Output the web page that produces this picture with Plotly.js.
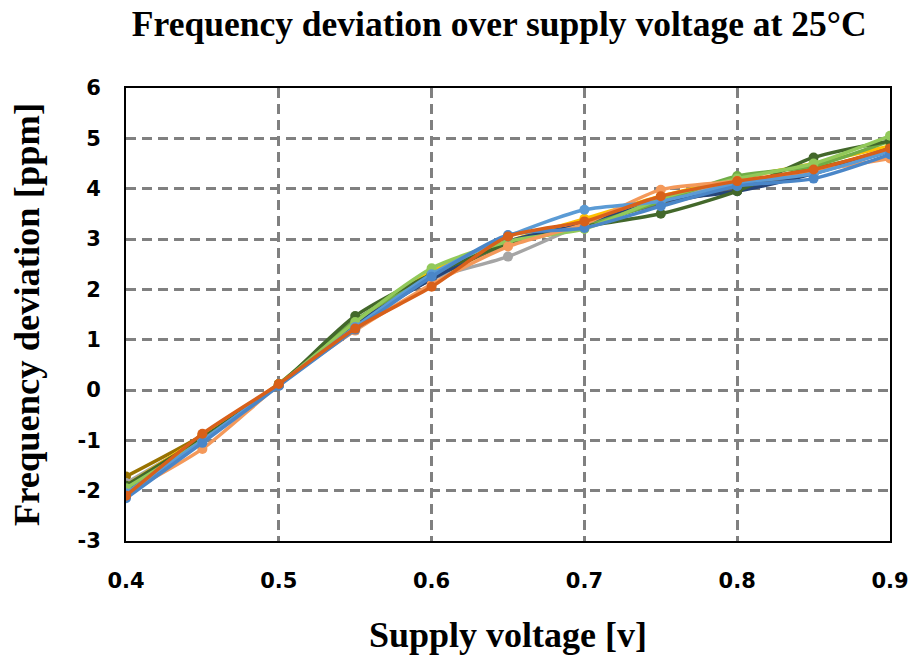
<!DOCTYPE html>
<html>
<head>
<meta charset="utf-8">
<script src="https://cdn.plot.ly/plotly-3.0.1.min.js"></script>
<style>html,body{margin:0;padding:0;background:#fff;}#chart{width:916px;height:660px;}</style>
</head>
<body>
<div id="chart"></div>
<script>
const voltage = [0.4, 0.45, 0.5, 0.55, 0.6, 0.65, 0.7, 0.75, 0.8, 0.85, 0.9];

const s01 = [-1.72, -0.90, 0.12, 1.35, 2.20, 2.90, 3.25, 3.75, 4.10, 4.40, 4.75];
const s02 = [-1.85, -0.95, 0.10, 1.30, 2.20, 2.65, 3.30, 3.80, 4.10, 4.35, 4.75];
const s03 = [-1.90, -0.92, 0.12, 1.35, 2.35, 2.95, 3.40, 3.85, 4.20, 4.50, 4.85];
const s04 = [-2.00, -0.97, 0.10, 1.30, 2.25, 2.90, 3.30, 3.70, 4.00, 4.35, 4.80];
const s05 = [-2.10, -1.00, 0.10, 1.30, 2.20, 2.95, 3.30, 3.75, 3.95, 4.30, 4.75];
const s06 = [-1.95, -0.98, 0.12, 1.38, 2.30, 2.90, 3.25, 3.75, 4.25, 4.45, 4.95];
const s07 = [-1.90, -0.95, 0.10, 1.47, 2.30, 2.90, 3.25, 3.50, 3.95, 4.62, 4.95];
const s08 = [-1.95, -1.00, 0.10, 1.35, 2.42, 2.95, 3.20, 3.80, 4.20, 4.50, 5.05];
const s09 = [-2.05, -1.17, 0.10, 1.18, 2.10, 2.85, 3.30, 3.98, 4.15, 4.35, 4.60];
const s10 = [-2.05, -1.00, 0.10, 1.25, 2.30, 3.05, 3.58, 3.75, 4.10, 4.30, 4.75];
const s11 = [-2.15, -1.05, 0.08, 1.20, 2.25, 3.08, 3.22, 3.65, 4.05, 4.20, 4.68];
const s12 = [-2.10, -0.87, 0.12, 1.22, 2.05, 3.05, 3.35, 3.85, 4.15, 4.38, 4.80];

const seriesList = [s01, s02, s03, s04, s05, s06, s07, s08, s09, s10, s11, s12];
const colors = ['#997300', '#A5A5A5', '#FFC000', '#636363', '#264478', '#70AD47',
                '#43682B', '#92C95A', '#F4995A', '#5B9BD5', '#4A86C8', '#D8601A'];

const traces = seriesList.map((ys, i) => ({
  x: voltage, y: ys, type: 'scatter', mode: 'lines+markers',
  line: {color: colors[i], width: 3.5, shape: 'spline', smoothing: 0.7},
  marker: {color: colors[i], size: 10},
  showlegend: false, hoverinfo: 'skip'
}));

const tickFont = {family: 'DejaVu Sans', size: 21, color: '#000', weight: 'bold'};
const titleFont = {family: 'Liberation Serif', color: '#000', weight: 'bold'};

const layout = {
  width: 916, height: 660,
  paper_bgcolor: '#fff', plot_bgcolor: '#fff',
  margin: {l: 126, r: 26, t: 88, b: 119},
  title: {text: 'Frequency deviation over supply voltage at 25°C',
          font: Object.assign({size: 35.5}, titleFont),
          x: 0.545, xanchor: 'center', y: 0.964, yanchor: 'middle'},
  xaxis: {
    range: [0.4, 0.9], tickvals: [0.4, 0.5, 0.6, 0.7, 0.8, 0.9],
    ticktext: ['0.4', '0.5', '0.6', '0.7', '0.8', '0.9'],
    showgrid: true, gridcolor: '#808080', griddash: '10px,6px', gridwidth: 3,
    showline: true, linecolor: '#000', linewidth: 2, mirror: true,
    zeroline: false, ticks: '', ticklabelstandoff: 20,
    tickfont: tickFont,
    title: {text: 'Supply voltage [v]', standoff: 30,
            font: Object.assign({size: 36}, titleFont)}
  },
  yaxis: {
    range: [-3, 6], tickvals: [-3, -2, -1, 0, 1, 2, 3, 4, 5, 6],
    ticktext: ['-3', '-2', '-1', '0', '1', '2', '3', '4', '5', '6'],
    showgrid: true, gridcolor: '#808080', griddash: '10px,6px', gridwidth: 3,
    showline: true, linecolor: '#000', linewidth: 2, mirror: true,
    zeroline: false, ticks: '', ticklabelstandoff: 19,
    tickfont: tickFont,
    title: {text: 'Frequency deviation [ppm]', standoff: 27,
            font: Object.assign({size: 36.5}, titleFont)}
  }
};

Plotly.newPlot('chart', traces, layout, {displayModeBar: false, staticPlot: true});
</script>
</body>
</html>
